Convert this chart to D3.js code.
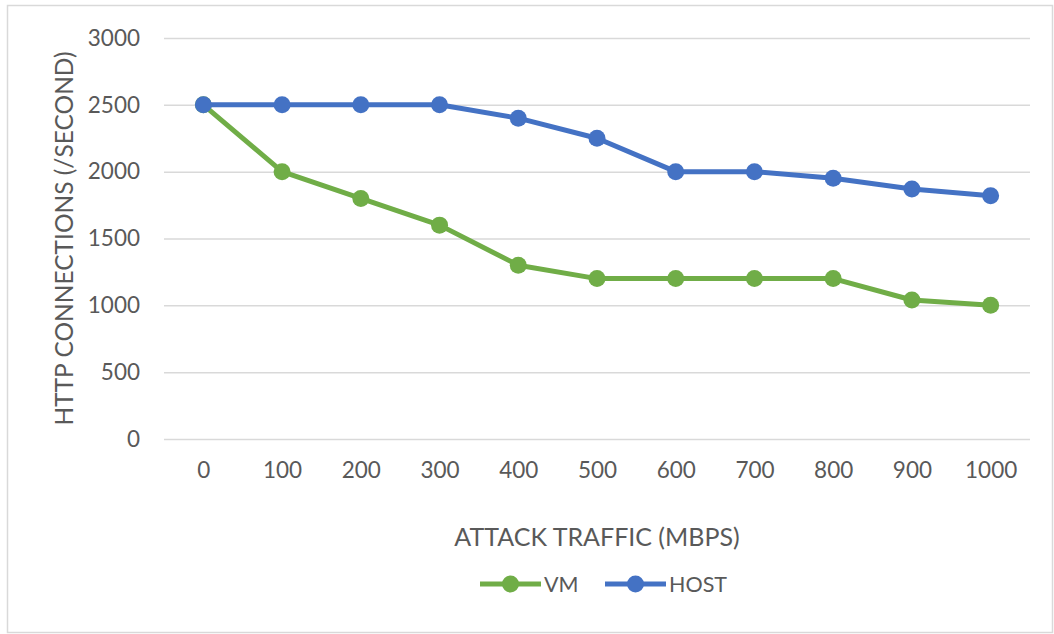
<!DOCTYPE html>
<html>
<head>
<meta charset="utf-8">
<script src="https://cdn.jsdelivr.net/npm/d3@7"></script>
<style>
  html, body { margin: 0; padding: 0; background: #fff; }
  svg { display: block; }
  text { font-family: Lato, "Open Sans", sans-serif; fill: #595959; }
</style>
</head>
<body>
<svg id="chart" width="1054" height="634"></svg>
<script>
// Attack traffic levels (Mbps) on the x axis
const categories = ["0", "100", "200", "300", "400", "500", "600", "700", "800", "900", "1000"];
// HTTP connections per second under attack
const vmValues   = [2500, 2000, 1800, 1600, 1300, 1200, 1200, 1200, 1200, 1040, 1000];
const hostValues = [2500, 2500, 2500, 2500, 2400, 2250, 2000, 2000, 1950, 1870, 1820];
const yTicks = [0, 500, 1000, 1500, 2000, 2500, 3000];

const seriesNames = ["VM", "HOST"];
const seriesColors = ["#70AD47", "#4472C4"];

const svg = d3.select("#chart");
const W = 1054, H = 634;

// outer chart frame
svg.append("rect")
  .attr("x", 7.5).attr("y", 5.5)
  .attr("width", W - 9).attr("height", H - 7)
  .attr("fill", "#fff").attr("stroke", "#d9d9d9").attr("stroke-width", 1.5);

const plot = { left: 164, right: 1030, top: 38, bottom: 439 };

const x = d3.scalePoint()
  .domain(categories)
  .range([plot.left, plot.right])
  .padding(0.5);

const y = d3.scaleLinear()
  .domain([0, 3000])
  .range([plot.bottom, plot.top]);

// horizontal gridlines + y tick labels
const yAxis = d3.axisLeft(y)
  .tickValues(yTicks)
  .tickFormat(d3.format("d"))
  .tickSize(-(plot.right - plot.left))
  .tickPadding(24);

const gy = svg.append("g")
  .attr("transform", `translate(${plot.left},0)`)
  .call(yAxis);
gy.select(".domain").remove();
gy.selectAll(".tick line").attr("stroke", "#d9d9d9").attr("stroke-width", 1.5);
gy.selectAll(".tick text")
  .attr("fill", "#595959")
  .style("font-size", "22.5px")
  .style("font-family", "Lato, 'Open Sans', sans-serif");

// x tick labels
const xAxis = d3.axisBottom(x).tickSize(0).tickPadding(23);
const gx = svg.append("g")
  .attr("transform", `translate(0,${plot.bottom})`)
  .call(xAxis);
gx.select(".domain").remove();
gx.selectAll(".tick text")
  .attr("fill", "#595959")
  .style("font-size", "22.5px")
  .style("font-family", "Lato, 'Open Sans', sans-serif");

// axis titles
svg.append("text")
  .attr("x", 597)
  .attr("y", 546)
  .attr("text-anchor", "middle")
  .style("font-size", "25px")
  .text("ATTACK TRAFFIC (MBPS)");

svg.append("text")
  .attr("transform", `translate(73, ${(plot.top + plot.bottom) / 2}) rotate(-90)`)
  .attr("text-anchor", "middle")
  .style("font-size", "24.5px")
  .text("HTTP CONNECTIONS (/SECOND)");

// series lines and markers
const series = [vmValues, hostValues];
const line = d3.line()
  .x((d, i) => x(categories[i]))
  .y(d => y(d));

series.forEach((vals, si) => {
  const g = svg.append("g");
  g.append("path")
    .datum(vals)
    .attr("fill", "none")
    .attr("stroke", seriesColors[si])
    .attr("stroke-width", 5)
    .attr("stroke-linejoin", "round")
    .attr("d", line);
  g.selectAll("circle")
    .data(vals)
    .join("circle")
    .attr("cx", (d, i) => x(categories[i]))
    .attr("cy", d => y(d))
    .attr("r", 8.5)
    .attr("fill", seriesColors[si]);
});

// legend
const legendItems = [
  { name: seriesNames[0], color: seriesColors[0], x: 480 },
  { name: seriesNames[1], color: seriesColors[1], x: 605 }
];
const ly = 584;
legendItems.forEach(it => {
  const g = svg.append("g");
  g.append("line")
    .attr("x1", it.x).attr("x2", it.x + 61)
    .attr("y1", ly).attr("y2", ly)
    .attr("stroke", it.color).attr("stroke-width", 5);
  g.append("circle")
    .attr("cx", it.x + 30.5).attr("cy", ly).attr("r", 8.5)
    .attr("fill", it.color);
  g.append("text")
    .attr("x", it.x + 64).attr("y", ly)
    .attr("dy", "0.35em")
    .style("font-size", "21.5px")
    .text(it.name);
});
</script>
</body>
</html>
